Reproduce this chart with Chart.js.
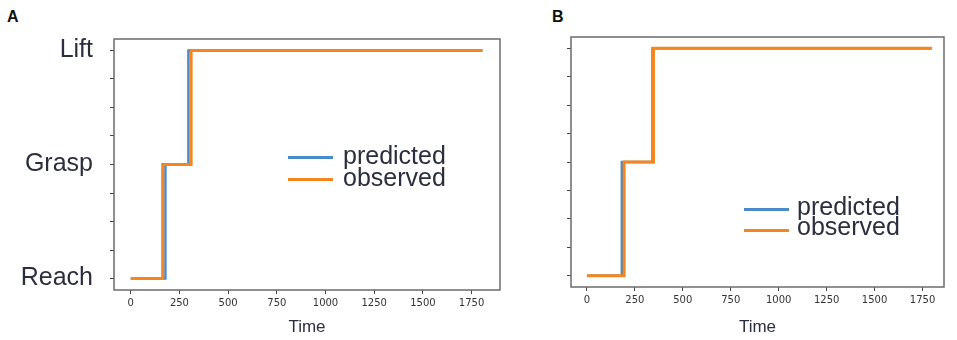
<!DOCTYPE html>
<html>
<head>
<meta charset="utf-8">
<script src="https://cdn.jsdelivr.net/npm/chart.js@4"></script>
<style>
  body { margin: 0; background: #fff; width: 957px; height: 340px; overflow: hidden; position: relative; font-family: "Liberation Sans", Arial, sans-serif; }
  canvas { position: absolute; top: 0; }
  .panel { position: absolute; font-weight: bold; font-size: 16px; color: #111; }
  .leg { position: absolute; color: #2b2f3d; font-size: 25px; line-height: 22px; }
  .leg .row { position: relative; height: 22px; white-space: nowrap; }
  .leg .swatch { position: absolute; left: 0; top: 9px; width: 45px; height: 3px; }
  .leg .txt { position: absolute; left: 55px; top: -3px; }
</style>
</head>
<body>
<div class="panel" style="left:7px;top:8px;">A</div>
<div class="panel" style="left:552px;top:8px;">B</div>
<canvas id="chartA" width="510" height="340" style="left:0;"></canvas>
<canvas id="chartB" width="412" height="340" style="left:545px;"></canvas>

<div class="leg" id="legA" style="left:288px;top:147px;">
  <div class="row"><div class="swatch" style="background:#4a8ac8"></div><span class="txt">predicted</span></div>
  <div class="row"><div class="swatch" style="background:#f5861f"></div><span class="txt">observed</span></div>
</div>
<div class="leg" id="legB" style="left:744px;top:199px;line-height:20px;">
  <div class="row" style="height:20px"><div class="swatch" style="background:#4a8ac8"></div><span class="txt" style="left:53px">predicted</span></div>
  <div class="row" style="height:20px"><div class="swatch" style="background:#f5861f;top:10px"></div><span class="txt" style="left:53px">observed</span></div>
</div>

<script>
// movement stages (y index) and tick values
const stateLabels = ['Reach', 'Grasp', 'Lift'];
const yTicks = [0, 0.25, 0.5, 0.75, 1, 1.25, 1.5, 1.75, 2];
const xTicks = [0, 250, 500, 750, 1000, 1250, 1500, 1750];

// panel A: times where the stage changes
const predTimeA = [0, 178, 296, 1806];
const predStateA = [0, 1, 2, 2];
const obsTimeA = [0, 164, 310, 1806];
const obsStateA = [0, 1, 2, 2];

// panel B
const predTimeB = [0, 182, 342, 1798];
const predStateB = [0, 1, 2, 2];
const obsTimeB = [0, 194, 347, 1798];
const obsStateB = [0, 1, 2, 2];

const BLUE = '#4a8ac8';
const ORANGE = '#f5861f';
const TEXT = '#2b2f3d';

function toPoints(t, s) {
    return t.map((v, i) => ({ x: v, y: s[i] }));
}

const framePlugin = {
    id: 'frame',
    afterDraw(chart) {
        const a = chart.chartArea;
        const ctx = chart.ctx;
        ctx.save();
        ctx.strokeStyle = '#6b6b6b';
        ctx.lineWidth = 1.5;
        ctx.strokeRect(a.left, a.top, a.right - a.left, a.bottom - a.top);
        ctx.restore();
    }
};

function makeChart(id, opts) {
    const ctx = document.getElementById(id).getContext('2d');
    return new Chart(ctx, {
        type: 'line',
        data: {
            datasets: [
                {
                    label: 'predicted',
                    data: toPoints(opts.predT, opts.predS),
                    borderColor: BLUE,
                    borderWidth: 2.5,
                    stepped: 'before',
                    pointRadius: 0,
                    order: 2
                },
                {
                    label: 'observed',
                    data: toPoints(opts.obsT, opts.obsS),
                    borderColor: ORANGE,
                    borderWidth: 3,
                    stepped: 'before',
                    pointRadius: 0,
                    order: 1
                }
            ]
        },
        options: {
            responsive: false,
            animation: false,
            devicePixelRatio: 1,
            layout: { padding: { top: opts.top, right: opts.right, bottom: 0, left: 0 } },
            plugins: { legend: { display: false }, tooltip: { enabled: false } },
            scales: {
                x: {
                    type: 'linear',
                    min: opts.xMin,
                    max: opts.xMax,
                    afterBuildTicks: s => { s.ticks = xTicks.map(v => ({ value: v })); },
                    afterFit: s => { s.height = opts.xHeight; },
                    grid: { drawOnChartArea: false, drawTicks: true, tickLength: 4, color: '#444' },
                    border: { display: false },
                    ticks: {
                        autoSkip: false,
                        maxRotation: 0,
                        padding: 3,
                        color: '#333',
                        font: { family: 'DejaVu Sans', size: 10 },
                        callback: v => String(v)
                    },
                    title: {
                        display: true,
                        text: 'Time',
                        color: TEXT,
                        font: { family: 'Liberation Sans', size: 17 },
                        padding: { top: 0, bottom: 2 }
                    }
                },
                y: {
                    type: 'linear',
                    min: -0.1,
                    max: 2.1,
                    afterBuildTicks: s => { s.ticks = yTicks.map(v => ({ value: v })); },
                    afterFit: s => { s.width = opts.yWidth; },
                    grid: { drawOnChartArea: false, drawTicks: true, tickLength: 4, color: '#444' },
                    border: { display: false },
                    ticks: {
                        autoSkip: false,
                        padding: 17,
                        color: TEXT,
                        font: { family: 'Liberation Sans', size: 25 },
                        callback: v => (opts.showY && Number.isInteger(v)) ? stateLabels[v] : ''
                    }
                }
            }
        },
        plugins: [framePlugin]
    });
}

makeChart('chartA', {
    predT: predTimeA, predS: predStateA, obsT: obsTimeA, obsS: obsStateA,
    xMin: -86, xMax: 1896, top: 39, right: 10, xHeight: 50, yWidth: 114, showY: true
});
makeChart('chartB', {
    predT: predTimeB, predS: predStateB, obsT: obsTimeB, obsS: obsStateB,
    xMin: -83, xMax: 1862, top: 37, right: 13, xHeight: 53, yWidth: 26, showY: false
});
</script>
</body>
</html>
